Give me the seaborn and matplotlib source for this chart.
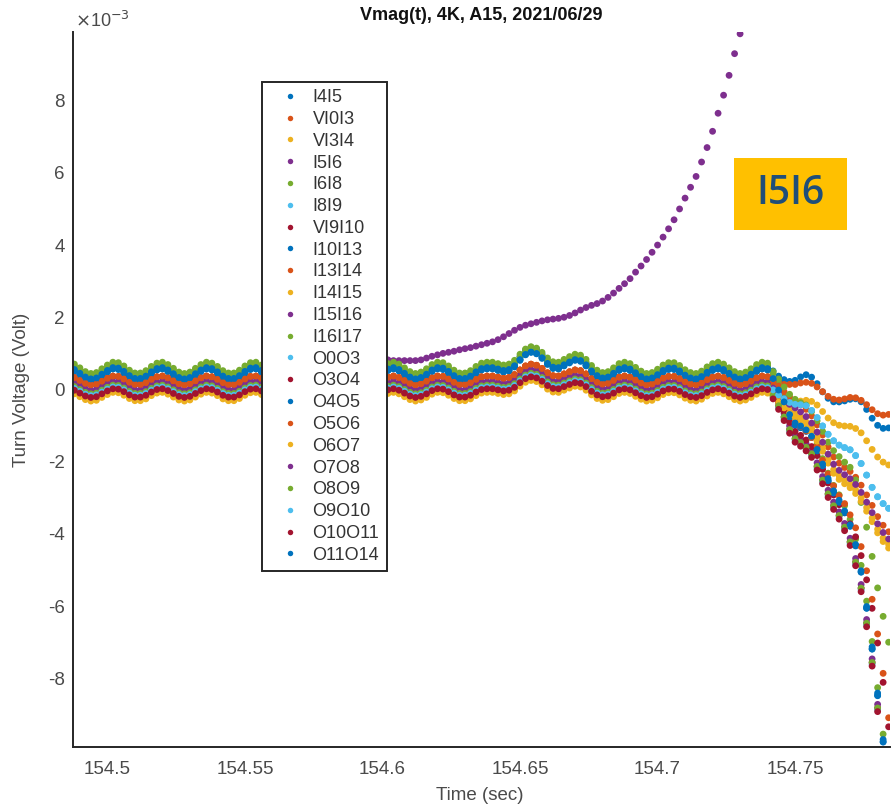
import numpy as np
import pandas as pd
import matplotlib
matplotlib.use("Agg")
import matplotlib.pyplot as plt
from matplotlib.patches import Rectangle
import seaborn as sns

# ---------------- data (voltages in units of 1e-3 V) ----------------
t_start = 154.488
t_step = 0.002
n_samples = 149

ripple = [0.08, 0.00, -0.08, -0.12, -0.10, -0.02, 0.06, 0.12, 0.11, 0.04,
          -0.05, -0.11, -0.11, -0.06, 0.03, 0.10, 0.12, 0.07, -0.01, -0.09,
          -0.12, -0.09, -0.01, 0.07, 0.12, 0.10, 0.03, -0.06, -0.11, -0.11,
          -0.05, 0.04, 0.11, 0.12, 0.06, -0.02, -0.10, -0.12, -0.08, 0.00,
          0.09, 0.12, 0.09, 0.01, -0.07, -0.12, -0.10, -0.03, 0.05, 0.11,
          0.11, 0.05, -0.04, -0.10, -0.12, -0.07, 0.02, 0.09, 0.12, 0.08,
          0.00, -0.08, -0.12, -0.09, -0.02, 0.07, 0.12, 0.11, 0.04, -0.05,
          -0.11, -0.11, -0.06, 0.03, 0.10, 0.12, 0.12, 0.09, 0.06, 0.08,
          0.16, 0.29, 0.40, 0.45, 0.42, 0.33, 0.21, 0.13, 0.12, 0.18,
          0.24, 0.29, 0.27, 0.18, 0.05, -0.05, -0.10, -0.08, 0.00, 0.09,
          0.12, 0.09, 0.01, -0.07, -0.12, -0.10, -0.03, 0.06, 0.11, 0.11,
          0.05, -0.04, -0.10, -0.12, -0.07, 0.02, 0.09, 0.12, 0.08, 0.00,
          -0.08, -0.12, -0.09, -0.02, 0.07, 0.12, 0.10, 0.04, -0.05, -0.11,
          -0.11, -0.06, 0.03, 0.10, 0.12, 0.07, -0.01, -0.09, -0.12, -0.09,
          -0.01, 0.08, 0.12, 0.10, 0.03, -0.06, -0.12, -0.11, -0.04]

names = ["I4I5", "VI0I3", "VI3I4", "I5I6", "I6I8", "I8I9", "VI9I10", "I10I13",
         "I13I14", "I14I15", "I15I16", "I16I17", "O0O3", "O3O4", "O4O5", "O5O6",
         "O6O7", "O7O8", "O8O9", "O9O10", "O10O11", "O11O14"]
offsets = [0.45, 0.25, -0.15, 0.30, 0.60, -0.05, 0.00, 0.40,
           0.25, -0.10, 0.10, 0.55, -0.05, 0.00, 0.40, 0.25,
           -0.20, 0.05, 0.00, -0.05, -0.10, 0.45]
ripple_gain = [1.6, 1.0, 1.0, 0.4, 1.3, 1.0, 1.0, 1.5,
               1.0, 1.0, 1.0, 1.2, 1.0, 1.0, 1.4, 1.0,
               1.0, 1.0, 1.0, 1.0, 1.0, 1.3]
tail_kind = ["blue_slow", "orange_slow", "yellow", "none", "steep", "cyan", "steep", "steep",
             "orange", "orange", "steep", "green", "steep", "steep2", "steep", "steep2",
             "orange", "orange", "steep", "cyan", "steep", "steep"]

# departures from the band after t = 154.740 (sample 126 onward)
tail_first_sample = 126
tails = {
    "steep":  [0, -0.2, -0.4, -0.65, -1.0, -1.3, -1.5, -1.7, -1.9, -2.2, -2.5, -2.8,
               -3.1, -3.4, -3.8, -4.3, -4.9, -5.6, -6.5, -7.5, -8.7, -10.0, -11.3],
    "steep2": [0, -0.1, -0.3, -0.5, -0.8, -1.1, -1.3, -1.5, -1.7, -1.9, -2.2, -2.5,
               -2.8, -3.1, -3.4, -3.8, -4.2, -4.7, -5.3, -6.0, -6.9, -8.0, -9.3],
    "green":  [0, -0.1, -0.2, -0.35, -0.55, -0.75, -0.95, -1.1, -1.3, -1.5, -1.7, -1.9,
               -2.1, -2.3, -2.55, -2.8, -3.2, -3.8, -4.4, -5.1, -5.9, -6.7, -7.5],
    "orange": [0, -0.05, -0.1, -0.2, -0.35, -0.5, -0.7, -0.9, -1.1, -1.3, -1.5, -1.75,
               -2.0, -2.2, -2.4, -2.6, -2.8, -3.0, -3.2, -3.4, -3.65, -3.9, -4.15],
    "cyan":   [0, 0, -0.05, -0.1, -0.2, -0.3, -0.4, -0.5, -0.65, -0.8, -0.95, -1.1,
               -1.25, -1.4, -1.55, -1.7, -1.9, -2.1, -2.35, -2.6, -2.8, -3.0, -3.2],
    "yellow": [0, 0, 0, -0.05, -0.1, -0.15, -0.2, -0.25, -0.3, -0.35, -0.45, -0.55,
               -0.65, -0.75, -0.85, -0.95, -1.05, -1.15, -1.3, -1.45, -1.6, -1.75, -1.9],
    "blue_slow": [0, 0, 0, 0, -0.05, -0.1, -0.15, -0.2, -0.3, -0.4, -0.5, -0.55,
                  -0.6, -0.65, -0.75, -0.85, -0.9, -0.95, -1.05, -1.15, -1.25, -1.35, -1.45],
    "orange_slow": [0, 0, 0, 0, 0, -0.05, -0.1, -0.15, -0.2, -0.25, -0.3, -0.35,
                    -0.4, -0.45, -0.5, -0.55, -0.6, -0.65, -0.7, -0.75, -0.8, -0.85, -0.9],
}

# I5I6 level from sample 46 (t = 154.580) to sample 122 (t = 154.732); off scale after
i5i6_first_sample = 46
i5i6_level = [0.45, 0.50, 0.55, 0.60, 0.65, 0.70, 0.72, 0.75, 0.78, 0.80,
              0.82, 0.82, 0.80, 0.80, 0.80, 0.80, 0.80, 0.82, 0.87, 0.92,
              0.96, 1.00, 1.03, 1.06, 1.10, 1.13, 1.16, 1.20, 1.24, 1.28,
              1.32, 1.38, 1.46, 1.55, 1.64, 1.72, 1.78, 1.82, 1.86, 1.90,
              1.93, 1.95, 1.97, 2.00, 2.05, 2.12, 2.20, 2.27, 2.33, 2.38,
              2.45, 2.55, 2.67, 2.80, 2.93, 3.07, 3.25, 3.42, 3.60, 3.80,
              4.00, 4.22, 4.45, 4.70, 5.00, 5.30, 5.60, 5.90, 6.30, 6.70,
              7.15, 7.65, 8.15, 8.70, 9.30, 9.85, 10.50]

matlab_colors = ["#0072BD", "#D95319", "#EDB120", "#7E2F8E", "#77AC30", "#4DBEEE", "#A2142F"]
colors = [matlab_colors[i % 7] for i in range(len(names))]

xtick_vals = [154.5, 154.55, 154.6, 154.65, 154.7, 154.75]
xtick_labels = ["154.5", "154.55", "154.6", "154.65", "154.7", "154.75"]
ytick_vals = [-8, -6, -4, -2, 0, 2, 4, 6, 8]

# ---------------- build long table ----------------
time = np.round(t_start + t_step * np.arange(n_samples), 3)
rip = np.array(ripple)
rows = []
for i, name in enumerate(names):
    v = (offsets[i] + ripple_gain[i] * rip).copy()
    if tail_kind[i] != "none":
        v[tail_first_sample:] = v[tail_first_sample:] + np.array(tails[tail_kind[i]])
    else:
        lvl = np.array(i5i6_level)
        v[i5i6_first_sample:i5i6_first_sample + len(lvl)] = lvl
        v[i5i6_first_sample + len(lvl):] = np.nan
    rows.append(pd.DataFrame({"Time": time, "Voltage": v, "Pair": name}))
df = pd.concat(rows, ignore_index=True).dropna()

# ---------------- plot ----------------
sns.set_theme(style="white")
plt.rcParams["font.family"] = ["Liberation Sans", "DejaVu Sans"]
plt.rcParams["axes.unicode_minus"] = False

fig = plt.figure(figsize=(8.92, 8.08), dpi=100)
ax = fig.add_axes([73 / 892, 61 / 808, 817 / 892, 715 / 808])

sns.scatterplot(data=df, x="Time", y="Voltage", hue="Pair", hue_order=names,
                palette=colors, s=24, linewidth=0, alpha=1.0, ax=ax, legend=True)

ax.set_xlim(154.4875, 154.7845)
ax.set_ylim(-9.9, 9.9)
ax.set_xticks(xtick_vals)
ax.set_xticklabels(xtick_labels)
ax.set_yticks(ytick_vals)
ax.set_yticklabels([str(v) for v in ytick_vals])

for s in ["top", "right"]:
    ax.spines[s].set_visible(False)
for s in ["left", "bottom"]:
    ax.spines[s].set_color("#262626")
    ax.spines[s].set_linewidth(1.4)

ax.tick_params(axis="both", direction="in", length=6, width=1.3, color="#262626",
               labelcolor="#4a4a4a", labelsize=13.5)
ax.tick_params(axis="x", pad=10)
ax.tick_params(axis="y", pad=6)

ax.set_xlabel("Time (sec)", fontsize=13.5, color="#4a4a4a")
ax.set_ylabel("Turn Voltage (Volt)", fontsize=13.5, color="#4a4a4a")
ax.xaxis.set_label_coords(0.498, -0.056)
ax.yaxis.set_label_coords(-0.053, 0.5)

fig.text(481 / 892, 1 - 16 / 808, "Vmag(t), 4K, A15, 2021/06/29", ha="center", va="center",
         fontsize=13, fontweight="bold", color="#111111")
fig.text(75 / 892, 1 - 21 / 808, r"$\times$10$^{-3}$", ha="left", va="center",
         fontsize=13, color="#4a4a4a")

handles, labels = ax.get_legend_handles_labels()
leg = ax.legend(handles, labels, loc="upper left",
                bbox_to_anchor=(262 / 892, 1 - 82 / 808), bbox_transform=fig.transFigure,
                borderaxespad=0, frameon=True, fancybox=False, framealpha=1,
                edgecolor="#262626", fontsize=13, labelspacing=0.265,
                handlelength=2.3, handletextpad=0.1, borderpad=0.4, markerscale=0.8)
leg.get_frame().set_linewidth(1.4)
for txt in leg.get_texts():
    txt.set_color("#333333")

# highlighted label box
fig.patches.append(Rectangle((734 / 892, 1 - 230 / 808), 113 / 892, 72 / 808,
                             transform=fig.transFigure, facecolor="#FFC000",
                             edgecolor="none", zorder=5))
fig.text(790.5 / 892, 1 - 194 / 808, "I5I6", ha="center", va="center", fontsize=28,
         fontweight="semibold", color="#1F4E79", family=["Open Sans", "DejaVu Sans"], zorder=6)

fig.savefig("out.png", dpi=100)
